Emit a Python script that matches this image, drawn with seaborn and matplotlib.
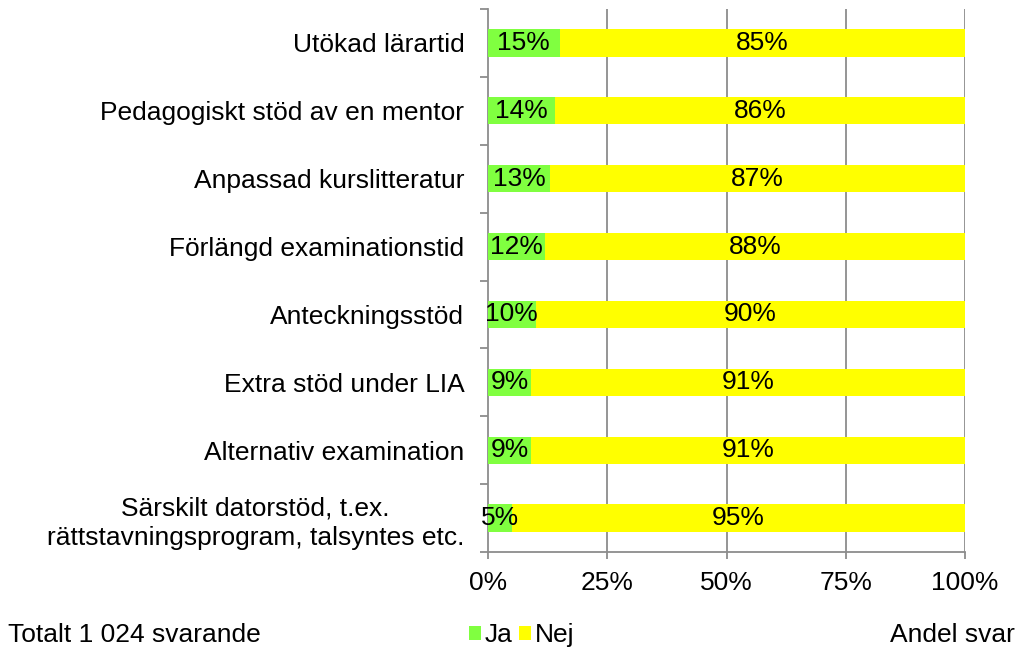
import matplotlib
matplotlib.use("Agg")
import matplotlib.pyplot as plt
import seaborn as sns
import pandas as pd
import numpy as np
from matplotlib.patches import Patch
from matplotlib.ticker import FixedLocator, PercentFormatter

categories = [
    "Utökad lärartid",
    "Pedagogiskt stöd av en mentor",
    "Anpassad kurslitteratur",
    "Förlängd examinationstid",
    "Anteckningsstöd",
    "Extra stöd under LIA",
    "Alternativ examination",
    "Särskilt datorstöd, t.ex.\nrättstavningsprogram, talsyntes etc.",
]
ja = [15, 14, 13, 12, 10, 9, 9, 5]
nej = [85, 86, 87, 88, 90, 91, 91, 95]
series_names = ["Ja", "Nej"]
xticks = [0, 25, 50, 75, 100]

GREEN = "#80FF40"
YELLOW = "#FFFF00"
GRID = "#8C8C8C"
FS = 19

sns.set_theme(style="white")
plt.rcParams["font.family"] = ["Liberation Sans", "DejaVu Sans"]
plt.rcParams["text.color"] = "black"

df = pd.DataFrame({"cat": categories, "ja": ja, "nej": nej})
df["total"] = df["ja"] + df["nej"]

fig = plt.figure(figsize=(10.23, 6.47), dpi=100)
ax = fig.add_axes([488 / 1023, 1 - 552 / 647, (965 - 488) / 1023, (552 - 9) / 647])

sns.barplot(data=df, y="cat", x="total", color=YELLOW, orient="h", width=0.4,
            ax=ax, saturation=1, edgecolor="none", zorder=2)
sns.barplot(data=df, y="cat", x="ja", color=GREEN, orient="h", width=0.4,
            ax=ax, saturation=1, edgecolor="none", zorder=3)

for i, (a, b) in enumerate(zip(df["ja"], df["nej"])):
    ax.text(a / 2, i, f"{a}%", ha="center", va="center", fontsize=FS, color="black", zorder=5)
    ax.text(a + b / 2, i, f"{b}%", ha="center", va="center", fontsize=FS, color="black", zorder=5)

n = len(categories)
ax.set_xlim(0, 100)
ax.set_ylim(n - 0.5, -0.5)
ax.set_xlabel("")
ax.set_ylabel("")

ax.xaxis.set_major_locator(FixedLocator(xticks))
ax.xaxis.set_major_formatter(PercentFormatter(decimals=0))
for x in xticks[1:]:
    ax.axvline(x, color=GRID, lw=1.3, zorder=1)

ax.yaxis.set_minor_locator(FixedLocator(np.arange(-0.5, n, 1.0)))
ax.tick_params(axis="y", which="major", length=0, pad=17, labelsize=FS, labelcolor="black")
ax.tick_params(axis="y", which="minor", length=6, width=1.3, color=GRID, direction="out", left=True)
ax.tick_params(axis="x", which="major", length=5, width=1.3, color=GRID, direction="out",
               bottom=True, pad=9, labelsize=FS, labelcolor="black")
for lbl in ax.get_yticklabels():
    lbl.set_multialignment("center")
    lbl.set_linespacing(1.3)

for s in ["top", "right"]:
    ax.spines[s].set_visible(False)
for s in ["left", "bottom"]:
    ax.spines[s].set_color(GRID)
    ax.spines[s].set_linewidth(1.3)

fig.text(8 / 1023, 1 - 635 / 647, "Totalt 1 024 svarande", ha="left", va="center", fontsize=FS, color="black")
fig.text(1015 / 1023, 1 - 635 / 647, "Andel svar", ha="right", va="center", fontsize=FS, color="black")

handles = [Patch(facecolor=GREEN, edgecolor="none"), Patch(facecolor=YELLOW, edgecolor="none")]
fig.legend(handles, series_names, loc="center", bbox_to_anchor=(522 / 1023, 1 - 635 / 647),
           ncol=2, frameon=False, fontsize=FS, handlelength=0.45, handleheight=0.45,
           handletextpad=0.15, columnspacing=0.25, borderpad=0, labelcolor="black")

fig.savefig("out.png", dpi=100)
